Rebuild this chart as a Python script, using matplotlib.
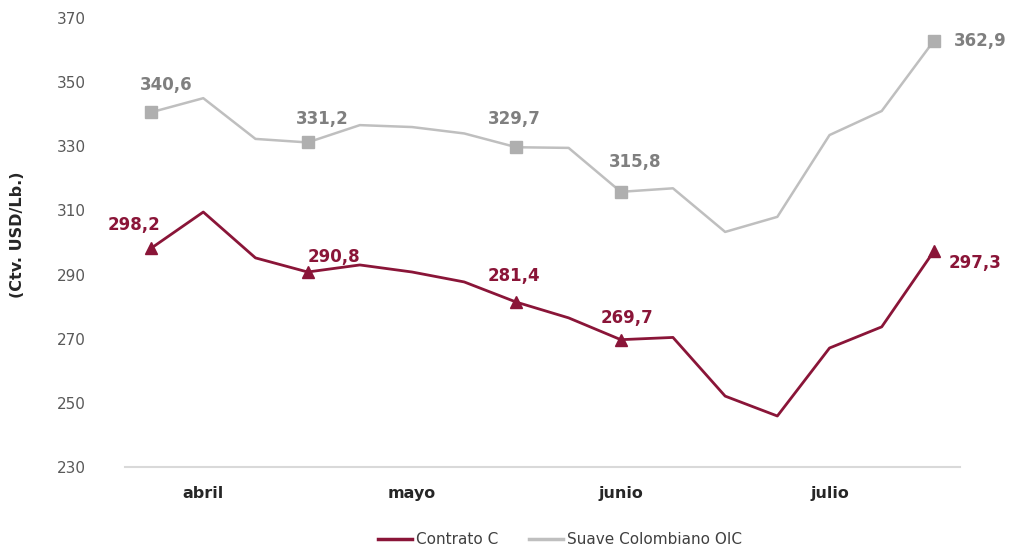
import matplotlib.pyplot as plt
from matplotlib.lines import Line2D

# weekly prices, Ctv. USD/Lb.
contrato_c = [298.2, 309.5, 295.2, 290.8, 293.0, 290.8, 287.7, 281.4,
              276.5, 269.7, 270.4, 252.1, 245.9, 267.1, 273.7, 297.3]
suave_oic = [340.6, 345.0, 332.3, 331.2, 336.6, 336.0, 334.0, 329.7,
             329.5, 315.8, 316.9, 303.3, 308.0, 333.5, 341.0, 362.9]
month_ticks = [1, 5, 9, 13]
month_labels = ['abril', 'mayo', 'junio', 'julio']
labeled = [0, 3, 7, 9, 15]

red = '#8A1538'
gray_line = '#BFBFBF'
gray_mark = '#AFAFAF'
gray_text = '#7F7F7F'

plt.rcParams['font.family'] = ['DejaVu Sans']

fig = plt.figure(figsize=(10.11, 5.52), dpi=100)
ax = fig.add_axes([125 / 1011, 85 / 552, 835 / 1011, 449 / 552])

x = list(range(len(contrato_c)))
ax.plot(x, contrato_c, color=red, lw=2.0, marker='^', markersize=8,
        markevery=labeled, zorder=3)
ax.plot(x, suave_oic, color=gray_line, lw=1.8, marker='s', markersize=8,
        markerfacecolor=gray_mark, markeredgecolor=gray_mark,
        markevery=labeled, zorder=2)

# data labels (offsets in pixels)
suave_off = {0: (15, 27), 3: (15, 23), 7: (-2, 28), 9: (14, 30), 15: (20, 0)}
contrato_off = {0: (-17, 23), 3: (26, 15), 7: (-2, 26), 9: (6, 22), 15: (15, -12)}
for i in labeled:
    ha = 'left' if i == 15 else 'center'
    ax.annotate(f'{suave_oic[i]:.1f}'.replace('.', ','), (i, suave_oic[i]),
                xytext=suave_off[i], textcoords='offset pixels', ha=ha,
                va='center', fontsize=12, fontweight='semibold', color=gray_text)
    ax.annotate(f'{contrato_c[i]:.1f}'.replace('.', ','), (i, contrato_c[i]),
                xytext=contrato_off[i], textcoords='offset pixels', ha=ha,
                va='center', fontsize=12, fontweight='semibold', color=red)

ax.set_xlim(-0.5, 15.5)
ax.set_ylim(230, 370)
ax.set_yticks(range(230, 371, 20))
ax.set_xticks(month_ticks)
ax.set_xticklabels(month_labels, fontsize=11.5, fontweight='bold', color='#262626')
ax.tick_params(axis='y', length=0, labelsize=11, labelcolor='#595959', pad=28)
ax.tick_params(axis='x', length=0, pad=14)

for s in ['top', 'right', 'left']:
    ax.spines[s].set_visible(False)
ax.spines['bottom'].set_color('#D9D9D9')
ax.spines['bottom'].set_linewidth(1.5)

fig.text(18 / 1011, 1 - 235 / 552, '(Ctv. USD/Lb.)', rotation=90, ha='center',
         va='center', fontsize=11.5, fontweight='bold', color='#262626')

handles = [Line2D([], [], color=red, lw=2.5),
           Line2D([], [], color=gray_line, lw=2.5)]
ax.legend(handles, ['Contrato C', 'Suave Colombiano OIC'], loc='center',
          bbox_to_anchor=(560 / 1011, 1 - 540 / 552),
          bbox_transform=fig.transFigure, ncol=2, frameon=False, fontsize=11,
          handlelength=2.2, handletextpad=0.3, columnspacing=2.0,
          labelcolor='#404040')

plt.savefig('out.png', dpi=100)
plt.close()
